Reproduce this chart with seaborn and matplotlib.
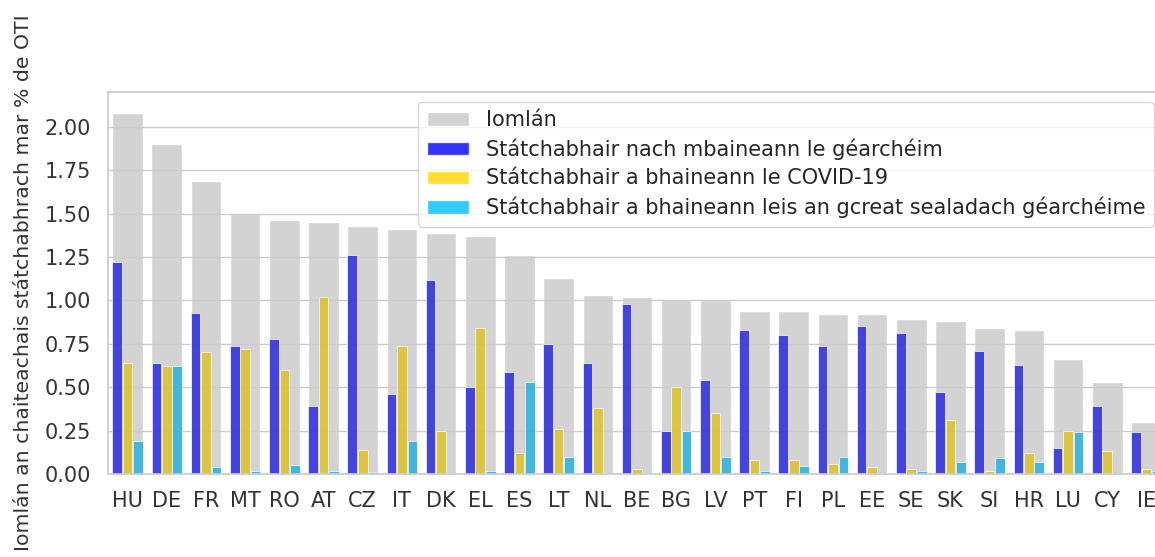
import pandas as pd
import matplotlib
matplotlib.use("Agg")
import matplotlib.pyplot as plt
import matplotlib.patches as mpatches
import seaborn as sns

# Values (% of GDP)
countries = ['HU', 'DE', 'FR', 'MT', 'RO', 'AT', 'CZ', 'IT', 'DK', 'EL', 'ES', 'LT', 'NL', 'BE',
             'BG', 'LV', 'PT', 'FI', 'PL', 'EE', 'SE', 'SK', 'SI', 'HR', 'LU', 'CY', 'IE']
total = [2.08, 1.90, 1.69, 1.50, 1.46, 1.45, 1.43, 1.41, 1.39, 1.37, 1.26, 1.13, 1.03, 1.02,
         1.01, 1.00, 0.94, 0.94, 0.92, 0.92, 0.89, 0.88, 0.84, 0.83, 0.66, 0.53, 0.30]
non_crisis = [1.22, 0.64, 0.93, 0.74, 0.78, 0.39, 1.26, 0.46, 1.12, 0.50, 0.59, 0.75, 0.64, 0.98,
              0.25, 0.54, 0.83, 0.80, 0.74, 0.85, 0.81, 0.47, 0.71, 0.63, 0.15, 0.39, 0.24]
covid = [0.64, 0.62, 0.70, 0.72, 0.60, 1.02, 0.14, 0.74, 0.25, 0.84, 0.12, 0.26, 0.38, 0.03,
         0.50, 0.35, 0.08, 0.08, 0.06, 0.04, 0.03, 0.31, 0.02, 0.12, 0.25, 0.13, 0.03]
tcf = [0.19, 0.62, 0.04, 0.02, 0.05, 0.015, 0.01, 0.19, 0.0, 0.015, 0.53, 0.10, 0.0, 0.0,
       0.25, 0.10, 0.015, 0.045, 0.10, 0.005, 0.015, 0.07, 0.09, 0.07, 0.24, 0.0, 0.015]

series_names = ['Státchabhair nach mbaineann le géarchéim',
                'Státchabhair a bhaineann le COVID-19',
                'Státchabhair a bhaineann leis an gcreat sealadach géarchéime']
series_colors = ['blue', 'gold', 'deepskyblue']
total_name = 'Iomlán'

long_df = pd.DataFrame({
    'country': countries * 3,
    'value': non_crisis + covid + tcf,
    'series': [series_names[0]] * len(countries) + [series_names[1]] * len(countries)
              + [series_names[2]] * len(countries),
})

sns.set_theme(style='whitegrid')
plt.rcParams['font.family'] = ['DejaVu Sans']

fig = plt.figure(figsize=(11.55, 5.57), dpi=100)
ax = fig.add_axes([108 / 1155, 1 - 474 / 557, 1058 / 1155, 382 / 557])

# grey totals behind, grid between, coloured parts on top
sns.barplot(x=countries, y=total, order=countries, color='lightgray', saturation=1,
            width=0.78, ax=ax, zorder=1)
sns.barplot(data=long_df, x='country', y='value', hue='series', order=countries,
            hue_order=series_names, palette=series_colors, width=0.8, gap=0.08,
            alpha=0.8, edgecolor='white', linewidth=0.6, ax=ax, zorder=2, legend=False)
ax.set_axisbelow('line')

ax.set_xlim(-0.5, len(countries) - 0.5)
ax.set_ylim(0, 2.2)
ax.set_yticks([0, 0.25, 0.5, 0.75, 1.0, 1.25, 1.5, 1.75, 2.0])
ax.set_yticklabels([f'{t:.2f}' for t in ax.get_yticks()])
ax.grid(axis='x', visible=False)
ax.tick_params(axis='x', labelsize=15, pad=6, colors='#333333')
ax.tick_params(axis='y', labelsize=15, pad=6.5, colors='#333333')
ax.set_xlabel('')
ax.set_ylabel('Iomlán an chaiteachais státchabhrach mar % de OTI', fontsize=14.7,
              color='#333333', labelpad=8)

handles = [mpatches.Patch(facecolor='lightgray', edgecolor='white', label=total_name)]
for name, c in zip(series_names, series_colors):
    handles.append(mpatches.Patch(facecolor=c, edgecolor='white', alpha=0.8, label=name))
ax.legend(handles=handles, loc='upper right', bbox_to_anchor=(1154 / 1155, 1 - 102 / 557),
          bbox_transform=fig.transFigure, fontsize=15, frameon=True, borderaxespad=0,
          handlelength=2.05, handleheight=0.6, labelspacing=0.4)

fig.savefig('out.png', dpi=100)
